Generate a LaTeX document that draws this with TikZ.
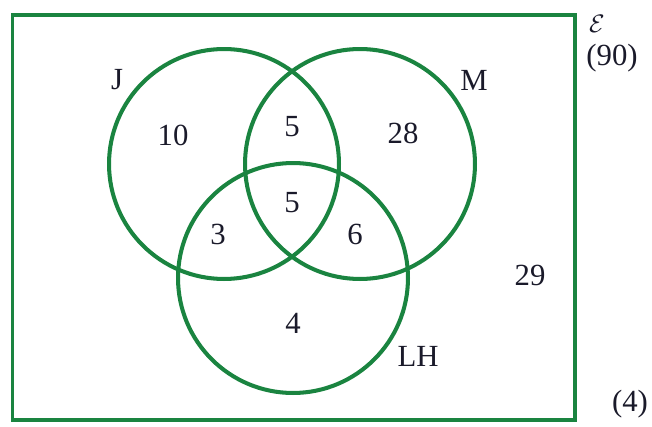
\documentclass[tikz,border=0pt]{standalone}
\usepackage{fontspec}
\setmainfont{Liberation Serif}
\usepackage{xcolor}
\usetikzlibrary{positioning}
\definecolor{venngreen}{HTML}{1A8440}
\definecolor{ink}{HTML}{1A1A2A}

\begin{document}
\begin{tikzpicture}[x=0.02cm, y=-0.02cm,
                    every node/.style={font=\fontsize{17.5}{21}\selectfont, text=ink, inner sep=0pt},
                    set/.style={circle, draw=venngreen, line width=2.3pt, minimum size=4.6cm}]

  \useasboundingbox (0,0) rectangle (652,426);

  % universal set
  \node[draw=venngreen, line width=2.2pt, minimum width=11.26cm, minimum height=8.1cm,
        anchor=north west] (U) at (10.5,13) {};
  \node (Ulabel) at (597,24) {\Large$\mathcal{E}$};
  \node (Utotal) at (612,58) {(90)};

  % the three sets
  \node[set] (J)  at (224,164) {};
  \node[set] (M)  at (360,164) {};
  \node[set] (LH) at (293,278) {};

  \node (Jname)  at (117,80)  {J};
  \node (Mname)  at (474,80)  {M};
  \node (LHname) at (418,356) {LH};

  % region counts
  \node (nJ)    at (173,135) {10};
  \node (nJM)   at (292,127) {5};
  \node (nM)    at (403,133) {28};
  \node (nJML)  at (292,203) {5};
  \node (nJL)   at (218,234) {3};
  \node (nML)   at (355,234) {6};
  \node (nL)    at (293,323) {4};
  \node (nout)  at (530,275) {29};

  \node (marks) at (630,404) {(4)};

\end{tikzpicture}
\end{document}
